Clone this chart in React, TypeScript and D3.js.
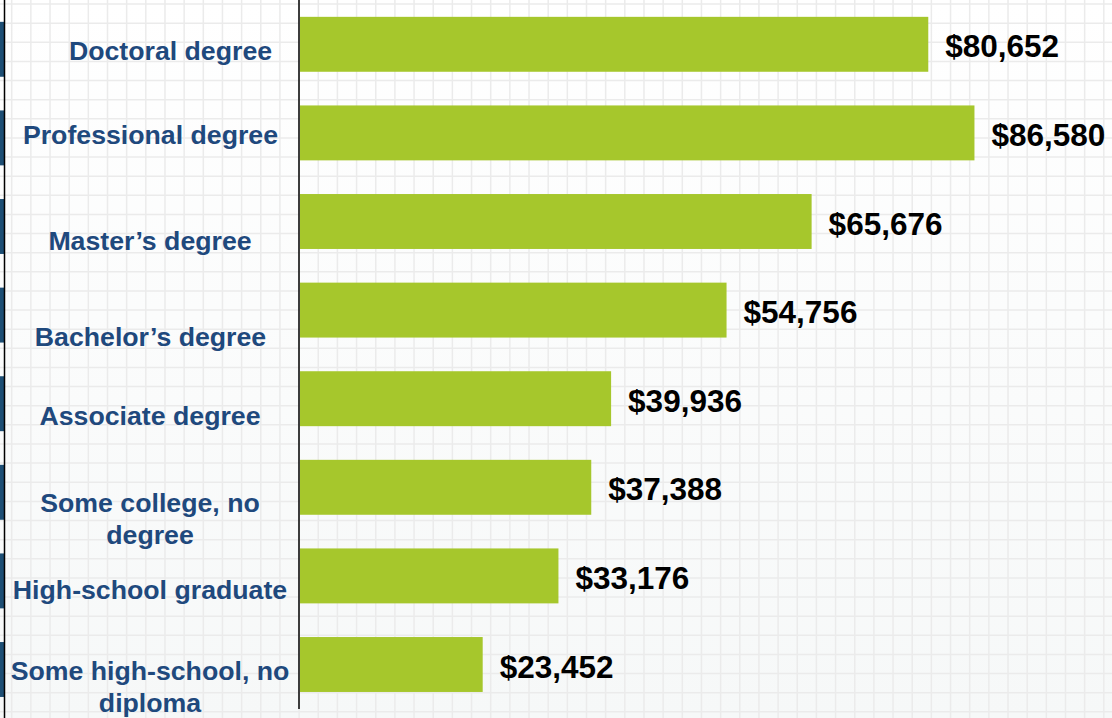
import React from "react";
import * as d3 from "d3";

const categories: string[][] = [
  ["Doctoral degree"],
  ["Professional degree"],
  ["Master\u2019s degree"],
  ["Bachelor\u2019s degree"],
  ["Associate degree"],
  ["Some college, no", "degree"],
  ["High-school graduate"],
  ["Some high-school, no", "diploma"],
];
const earnings: number[] = [80652, 86580, 65676, 54756, 39936, 37388, 33176, 23452];

// style constants (label placement relative to bar centre)
const labelBaselineOffset = [15.7, 11.1, 28.5, 36, 26.3, 24.7, 23.1, 15.5];
const labelCenterX = [170.5, 150.5, 150, 150.5, 150, 150, 150, 150];

const W = 1112;
const H = 718;

export default function App() {
  const keys = categories.map((c) => c.join(" "));
  const x = d3.scaleLinear().domain([0, 100000]).range([300, 1079]);
  const y = d3
    .scaleBand<string>()
    .domain(keys)
    .range([0, 708.8])
    .paddingInner(0.38)
    .paddingOuter(0.19);
  const fmt = d3.format(",");
  const gridX = d3.range(11.7, W, 19.16);
  const gridY = d3.range(4, H, 19.13);
  const font = "'Liberation Sans', Arial, Helvetica, sans-serif";

  return (
    <svg
      width={W}
      height={H}
      style={{ position: "absolute", left: 0, top: 0, display: "block" }}
    >
      <defs>
        <linearGradient id="bg" x1="0" y1="0" x2="0" y2="1">
          <stop offset="0" stopColor="#ffffff" />
          <stop offset="1" stopColor="#f6f8f8" />
        </linearGradient>
      </defs>
      <rect x={0} y={0} width={W} height={H} fill="url(#bg)" />
      {gridX.map((gx, i) => (
        <line key={"gx" + i} x1={gx} x2={gx} y1={0} y2={H} stroke="#ebebeb" strokeWidth={1.5} />
      ))}
      {gridY.map((gy, i) => (
        <line key={"gy" + i} x1={0} x2={W} y1={gy} y2={gy} stroke="#ebebeb" strokeWidth={1.5} />
      ))}
      {/* left edge markers */}
      {keys.map((k, i) => (
        <rect key={"m" + i} x={0} y={(y(k) as number) + 5} width={4} height={y.bandwidth()} fill="#1d4e74" />
      ))}
      <line x1={4.5} x2={4.5} y1={0} y2={H} stroke="#000" strokeWidth={1.5} />
      {/* bars */}
      {keys.map((k, i) => (
        <rect
          key={"b" + i}
          x={x(0)}
          y={y(k) as number}
          width={x(earnings[i]) - x(0)}
          height={y.bandwidth()}
          fill="#a6c72c"
        />
      ))}
      <line x1={299} x2={299} y1={0} y2={709} stroke="#000" strokeWidth={1.5} />
      {/* value labels */}
      {keys.map((k, i) => (
        <text
          key={"v" + i}
          x={x(earnings[i]) + 17}
          y={(y(k) as number) + y.bandwidth() / 2 + 13}
          fontFamily={font}
          fontWeight="bold"
          fontSize={31.5}
          fill="#000"
        >
          {"$" + fmt(earnings[i])}
        </text>
      ))}
      {/* category labels */}
      {categories.map((lines, i) => {
        const cy = (y(keys[i]) as number) + y.bandwidth() / 2 + labelBaselineOffset[i];
        return (
          <text
            key={"c" + i}
            x={labelCenterX[i]}
            y={cy}
            textAnchor="middle"
            fontFamily={font}
            fontWeight="bold"
            fontSize={26.7}
            fill="#1f497d"
          >
            {lines.map((ln, j) => (
              <tspan key={j} x={labelCenterX[i]} dy={j === 0 ? 0 : 32}>
                {ln}
              </tspan>
            ))}
          </text>
        );
      })}
    </svg>
  );
}
